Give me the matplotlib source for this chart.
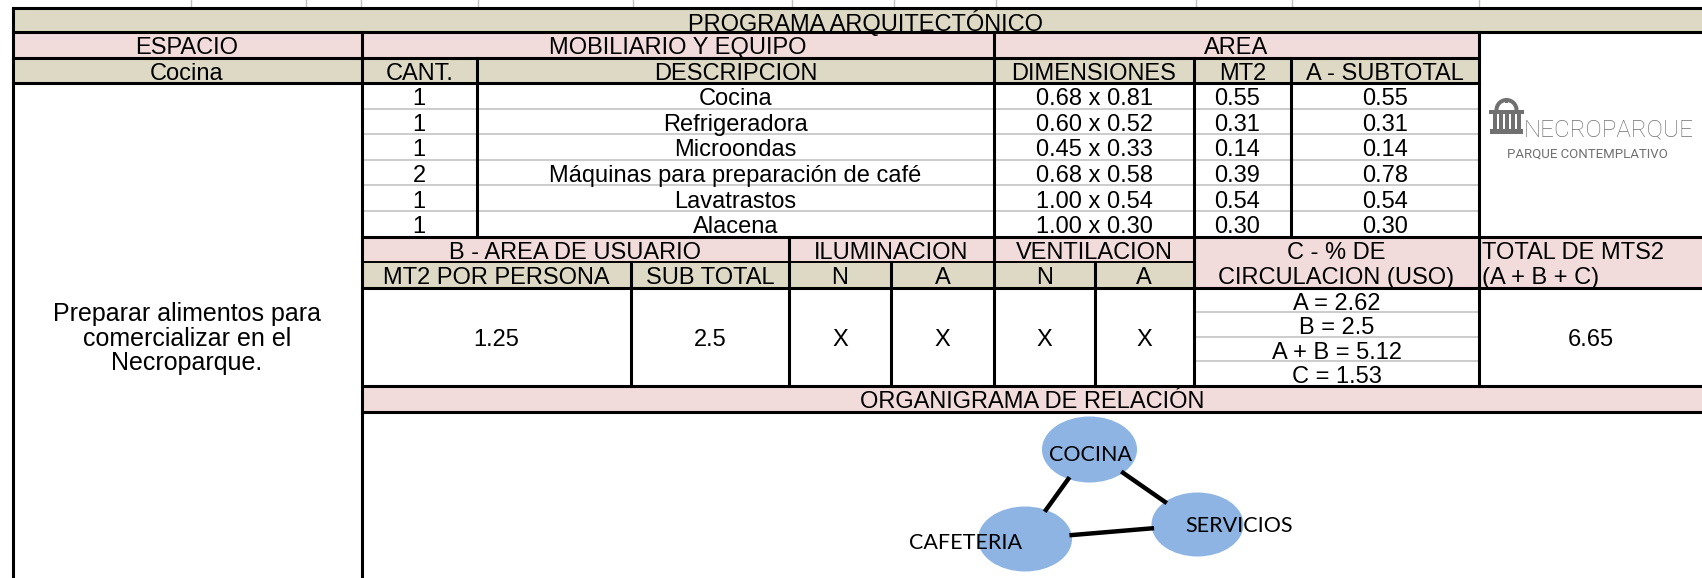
import matplotlib
matplotlib.use('Agg')
import math
import matplotlib.pyplot as plt
from matplotlib.patches import Rectangle, Ellipse, Wedge

# ---- datos del programa arquitectonico ----
espacio = "Cocina"
actividad = ["Preparar alimentos para", "comercializar en el", "Necroparque."]
cantidades = [1, 1, 1, 2, 1, 1]
descripciones = ["Cocina", "Refrigeradora", "Microondas",
                 "Máquinas para preparación de café", "Lavatrastos", "Alacena"]
dimensiones = ["0.68 x 0.81", "0.60 x 0.52", "0.45 x 0.33",
               "0.68 x 0.58", "1.00 x 0.54", "1.00 x 0.30"]
mt2 = [0.55, 0.31, 0.14, 0.39, 0.54, 0.30]
subtotal_a = [0.55, 0.31, 0.14, 0.78, 0.54, 0.30]
mt2_persona = "1.25"
subtotal_b = "2.5"
iluminacion = ["X", "X"]
ventilacion = ["X", "X"]
circulacion = ["A = 2.62", "B = 2.5", "A + B = 5.12", "C = 1.53"]
total_mts2 = "6.65"
nodos = ["COCINA", "CAFETERIA", "SERVICIOS"]
relaciones = [("COCINA", "CAFETERIA"), ("COCINA", "SERVICIOS"), ("CAFETERIA", "SERVICIOS")]

TAN = '#DDD9C4'
PINK = '#F2DCDB'
BLUE = '#8DB4E2'
GRAY = '#C8C8C8'
FONT = ['Liberation Sans', 'DejaVu Sans']
FS = 17

W, H = 1702, 578
fig = plt.figure(figsize=(W / 100, H / 100), dpi=100)
ax = fig.add_axes([0, 0, 1, 1])
ax.set_xlim(0, W)
ax.set_ylim(H, 0)
ax.axis('off')

# layout (pixels)
L, C1, C2, C3, C4, C5, C6, R = 12.5, 361.5, 477, 994, 1194, 1291, 1479, W
B1, B2, B3, B4 = 631, 789, 891, 1094.5
Y0, Y1, Y2, Y3 = 7.5, 32, 57.5, 83
RH = 25.6
Y4 = Y3 + RH * len(descripciones)
Y5, Y6, Y7, Y8 = Y4 + 25, Y4 + 51.3, 386, 411.5


def fill(x0, y0, x1, y1, c):
    ax.add_patch(Rectangle((x0, y0), x1 - x0, y1 - y0, fc=c, ec='none', zorder=1))


def hl(y, x0, x1, lw=2.2, c='black'):
    ax.plot([x0, x1], [y, y], color=c, lw=lw, solid_capstyle='projecting', zorder=3 if c == 'black' else 2)


def vl(x, y0, y1, lw=2.2, c='black'):
    ax.plot([x, x], [y0, y1], color=c, lw=lw, solid_capstyle='projecting', zorder=3)


def txt(x, y, s, ha='center', fs=FS, **kw):
    ax.text(x, y + 1, s, ha=ha, va='center_baseline', fontsize=fs, family=FONT, zorder=2.5, **kw)


# spreadsheet gridline ticks above the table
for x in [191, 306, 361, 478, 633, 792, 894, 996, 1196, 1292, 1479]:
    ax.plot([x, x], [0, Y0], color='#BFBFBF', lw=1, zorder=2)

# fills
fill(L, Y0, R, Y1, TAN)
fill(L, Y1, C6, Y2, PINK)
fill(L, Y2, C6, Y3, TAN)
fill(C1, Y4, R, Y5, PINK)
fill(C4, Y5, R, Y6, PINK)
fill(C1, Y5, C4, Y6, TAN)
fill(C1, Y7, R, Y8, PINK)

# gray separators
for i in range(1, len(descripciones)):
    hl(Y3 + RH * i, C1, C6, lw=1.3, c=GRAY)
ch = (Y7 - Y6) / len(circulacion)
for i in range(1, len(circulacion)):
    hl(Y6 + ch * i, C4, C6, lw=1.3, c=GRAY)

# black borders
hl(Y0, L, R)
hl(Y1, L, R)
hl(Y2, L, C6)
hl(Y3, L, C6)
hl(Y4, C1, R)
hl(Y5, C1, C4, lw=1.4)
hl(Y6, C1, R)
hl(Y7, C1, R)
hl(Y8, C1, R)
vl(L, Y0, H)
vl(C1, Y1, H)
vl(C2, Y2, Y4)
vl(C3, Y1, Y7)
vl(C4, Y2, Y7)
vl(C5, Y2, Y4)
vl(C6, Y1, Y7)
vl(B1, Y5, Y7)
vl(B2, Y4, Y7)
vl(B3, Y5, Y7)
vl(B4, Y5, Y7)

# header texts
txt((L + R) / 2 + 8, (Y0 + Y1) / 2, "PROGRAMA ARQUITECTÓNICO")
txt((L + C1) / 2, (Y1 + Y2) / 2, "ESPACIO")
txt((C1 + C3) / 2, (Y1 + Y2) / 2, "MOBILIARIO Y EQUIPO")
txt((C3 + C6) / 2, (Y1 + Y2) / 2, "AREA")
txt((L + C1) / 2, (Y2 + Y3) / 2, espacio)
for x0, x1, s in [(C1, C2, "CANT."), (C2, C3, "DESCRIPCION"), (C3, C4, "DIMENSIONES"),
                  (C4, C5, "MT2"), (C5, C6, "A - SUBTOTAL")]:
    txt((x0 + x1) / 2, (Y2 + Y3) / 2, s)

# furniture rows
for i in range(len(descripciones)):
    yc = Y3 + RH * (i + 0.5)
    txt((C1 + C2) / 2, yc, str(cantidades[i]))
    txt((C2 + C3) / 2, yc, descripciones[i])
    txt((C3 + C4) / 2, yc, dimensiones[i])
    txt((C4 + C5) / 2 - 5, yc, f"{mt2[i]:.2f}")
    txt((C5 + C6) / 2, yc, f"{subtotal_a[i]:.2f}")

# activity text
for i, s in enumerate(actividad):
    txt((L + C1) / 2, 311 + 24.4 * i, s, fs=18)

# area B / iluminacion / ventilacion
yb = (Y4 + Y5) / 2
txt((C1 + B2) / 2, yb, "B - AREA DE USUARIO")
txt((B2 + C3) / 2, yb, "ILUMINACION")
txt((C3 + C4) / 2, yb, "VENTILACION")
txt((C4 + C6) / 2, yb, "C - % DE")
txt(C6 + 3, yb, "TOTAL DE MTS2", ha='left')
ys = (Y5 + Y6) / 2
txt((C1 + B1) / 2, ys, "MT2 POR PERSONA")
txt((B1 + B2) / 2, ys, "SUB TOTAL")
for x0, x1 in [(B2, B3), (B3, C3), (C3, B4), (B4, C4)]:
    txt((x0 + x1) / 2, ys, "N" if x0 in (B2, C3) else "A")
txt((C4 + C6) / 2, ys, "CIRCULACION (USO)")
txt(C6 + 3, ys, "(A + B + C)", ha='left')

yv = (Y6 + Y7) / 2
txt((C1 + B1) / 2, yv, mt2_persona)
txt((B1 + B2) / 2, yv, subtotal_b)
marcas = iluminacion + ventilacion
for (x0, x1), m in zip([(B2, B3), (B3, C3), (C3, B4), (B4, C4)], marcas):
    txt((x0 + x1) / 2, yv, m)
for i, s in enumerate(circulacion):
    txt((C4 + C6) / 2, Y6 + ch * (i + 0.5), s)
txt((C6 + R) / 2, yv, total_mts2)

txt((C1 + R) / 2, (Y7 + Y8) / 2, "ORGANIGRAMA DE RELACIÓN")

# logo
lg = '#707070'
ax.add_patch(Rectangle((1490, 129), 33, 4.5, fc=lg, ec='none', zorder=4))
for cx in [1493, 1499, 1505, 1511, 1517]:
    ax.add_patch(Rectangle((cx, 114), 3.5, 15, fc=lg, ec='none', zorder=4))
ax.add_patch(Rectangle((1489, 110), 35, 4, fc=lg, ec='none', zorder=4))
ax.add_patch(Wedge((1506.5, 110), 12, 180, 360, width=4, fc=lg, ec='none', zorder=4))
ax.add_patch(Rectangle((1505, 99), 3, 4, fc=lg, ec='none', zorder=4))
ax.text(1524, 127, "NECROPARQUE", ha='left', va='center_baseline', fontsize=17.5,
        family=['Roboto', 'DejaVu Sans'], fontweight='light', color=lg, zorder=4)
ax.text(1587, 153, "PARQUE CONTEMPLATIVO", ha='center', va='center_baseline', fontsize=9.5,
        family=['Roboto', 'DejaVu Sans'], color=lg, zorder=4)

# organigrama
pos = {"COCINA": (1089.5, 449.5), "CAFETERIA": (1025, 539), "SERVICIOS": (1197.5, 524.5)}
tam = {"COCINA": (95, 66), "CAFETERIA": (94, 65), "SERVICIOS": (92, 64)}
lab = {"COCINA": (1090, 453), "CAFETERIA": (966, 541), "SERVICIOS": (1239, 524)}


def edge(p, d, s, sgn):
    wa, hb = s[0] / 2, s[1] / 2
    t = 1 / math.sqrt((d[0] / wa) ** 2 + (d[1] / hb) ** 2)
    return p[0] + sgn * d[0] * t, p[1] + sgn * d[1] * t


for a, b in relaciones:
    dx, dy = pos[b][0] - pos[a][0], pos[b][1] - pos[a][1]
    p0 = edge(pos[a], (dx, dy), tam[a], 1)
    p1 = edge(pos[b], (dx, dy), tam[b], -1)
    ax.plot([p0[0], p1[0]], [p0[1], p1[1]], color='black', lw=3.2, zorder=3)
for n in nodos:
    ax.add_patch(Ellipse(pos[n], tam[n][0], tam[n][1], fc=BLUE, ec='none', zorder=2))
    ax.text(lab[n][0], lab[n][1], n, ha='center', va='center_baseline', fontsize=15.5,
            family=['Lato', 'DejaVu Sans'], zorder=4)

fig.savefig("out.png", dpi=100)
